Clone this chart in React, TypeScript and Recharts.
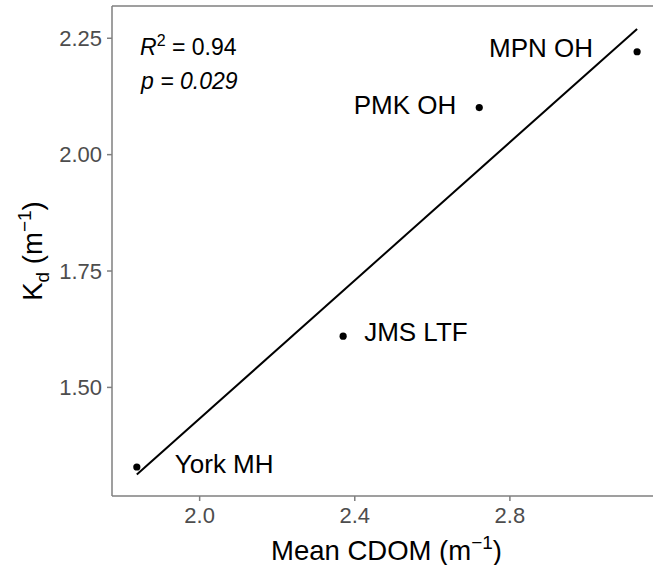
import React from 'react';
import { ScatterChart, Scatter, XAxis, YAxis, ReferenceLine, Label } from 'recharts';

// ---- data ----
const sites = ['York MH', 'JMS LTF', 'PMK OH', 'MPN OH'];
const meanCdom = [1.838, 2.37, 2.721, 3.128];
const kdValues = [1.329, 1.61, 2.101, 2.221];

// regression line end points
const fitX = [1.838, 3.128];
const fitY = [1.313, 2.27];

const xTicks = [2.0, 2.4, 2.8];
const yTicks = [1.5, 1.75, 2.0, 2.25];
const xDomain = [1.774, 3.169];
const yDomain = [1.2667, 2.3193];

const r2Text = '0.94';
const pText = '0.029';

// ---- label placement (style config) ----
const labelPlacement: Record<string, { dx: number; dy: number; anchor: 'start' | 'end' }> = {
  'York MH': { dx: 38, dy: 6.5, anchor: 'start' },
  'JMS LTF': { dx: 21, dy: 4.5, anchor: 'start' },
  'PMK OH': { dx: -23, dy: 6, anchor: 'end' },
  'MPN OH': { dx: -44, dy: 5.5, anchor: 'end' },
};

const points = sites.map((s, i) => ({ site: s, x: meanCdom[i], y: kdValues[i] }));

const FONT = '"Liberation Sans", Arial, Helvetica, sans-serif';
const AXIS_GRAY = '#7f7f7f';
const TICK_GRAY = '#4d4d4d';

const PointShape = (props: any) => {
  const { cx, cy, payload } = props;
  const lp = labelPlacement[payload.site];
  return (
    <g>
      <circle cx={cx} cy={cy} r={3.6} fill="#000" />
      <text
        x={cx + lp.dx}
        y={cy + lp.dy}
        textAnchor={lp.anchor}
        fontFamily={FONT}
        fontSize={26}
        fill="#000"
      >
        {payload.site}
      </text>
    </g>
  );
};

const XTitle = (props: any) => {
  const { viewBox } = props;
  const cx = viewBox.x + viewBox.width / 2 + 4;
  return (
    <text x={cx} y={560} textAnchor="middle" fontFamily={FONT} fontSize={27.5} fill="#000">
      Mean CDOM (m
      <tspan dy={-11} fontSize={19}>−1</tspan>
      <tspan dy={11}>)</tspan>
    </text>
  );
};

const YTitle = (props: any) => {
  const { viewBox } = props;
  const cy = viewBox.y + viewBox.height / 2;
  return (
    <text
      transform={`translate(42,${cy}) rotate(-90)`}
      textAnchor="middle"
      fontFamily={FONT}
      fontSize={27.5}
      fill="#000"
    >
      K
      <tspan dy={7} fontSize={19}>d</tspan>
      <tspan dy={-7}> (m</tspan>
      <tspan dy={-11} fontSize={19}>−1</tspan>
      <tspan dy={11}>)</tspan>
    </text>
  );
};

const Annotation = (props: any) => {
  const { viewBox } = props;
  const x0 = viewBox.x + 28;
  const y0 = viewBox.y;
  return (
    <g fontFamily={FONT} fontSize={23} fill="#000">
      <text x={x0} y={y0 + 49}>
        <tspan fontStyle="italic">R</tspan>
        <tspan dy={-9} fontSize={16}>2</tspan>
        <tspan dy={9}>{` = ${r2Text}`}</tspan>
      </text>
      <text x={x0 + 1} y={y0 + 82.5} fontStyle="italic">
        {`p = ${pText}`}
      </text>
    </g>
  );
};

export default function App() {
  return (
    <div style={{ position: 'absolute', left: 0, top: 0, width: 653, height: 565, background: '#fff' }}>
      <ScatterChart width={653} height={565} margin={{ top: 6, right: 0, bottom: 0, left: 0 }}>
        <XAxis
          type="number"
          dataKey="x"
          domain={xDomain}
          allowDataOverflow
          ticks={xTicks}
          tickFormatter={(v: number) => v.toFixed(1)}
          height={69}
          stroke={AXIS_GRAY}
          axisLine={{ stroke: AXIS_GRAY, strokeWidth: 1.5 }}
          tickLine={{ stroke: AXIS_GRAY, strokeWidth: 1.5 }}
          tickSize={5}
          tickMargin={6}
          tick={{ fill: TICK_GRAY, fontSize: 22, fontFamily: FONT }}
        >
          <Label content={<XTitle />} />
        </XAxis>
        <YAxis
          type="number"
          dataKey="y"
          domain={yDomain}
          allowDataOverflow
          ticks={yTicks}
          tickFormatter={(v: number) => v.toFixed(2)}
          width={112}
          stroke={AXIS_GRAY}
          axisLine={{ stroke: AXIS_GRAY, strokeWidth: 1.5 }}
          tickLine={{ stroke: AXIS_GRAY, strokeWidth: 1.5 }}
          tickSize={5}
          tickMargin={5}
          tick={{ fill: TICK_GRAY, fontSize: 22, fontFamily: FONT }}
        >
          <Label content={<YTitle />} />
        </YAxis>
        <ReferenceLine y={yDomain[1]} stroke={AXIS_GRAY} strokeWidth={1.5} ifOverflow="visible">
          <Label content={<Annotation />} />
        </ReferenceLine>
        <ReferenceLine
          segment={[
            { x: fitX[0], y: fitY[0] },
            { x: fitX[1], y: fitY[1] },
          ]}
          stroke="#000"
          strokeWidth={2}
          ifOverflow="visible"
        />
        <Scatter data={points} shape={<PointShape />} isAnimationActive={false} />
      </ScatterChart>
    </div>
  );
}
